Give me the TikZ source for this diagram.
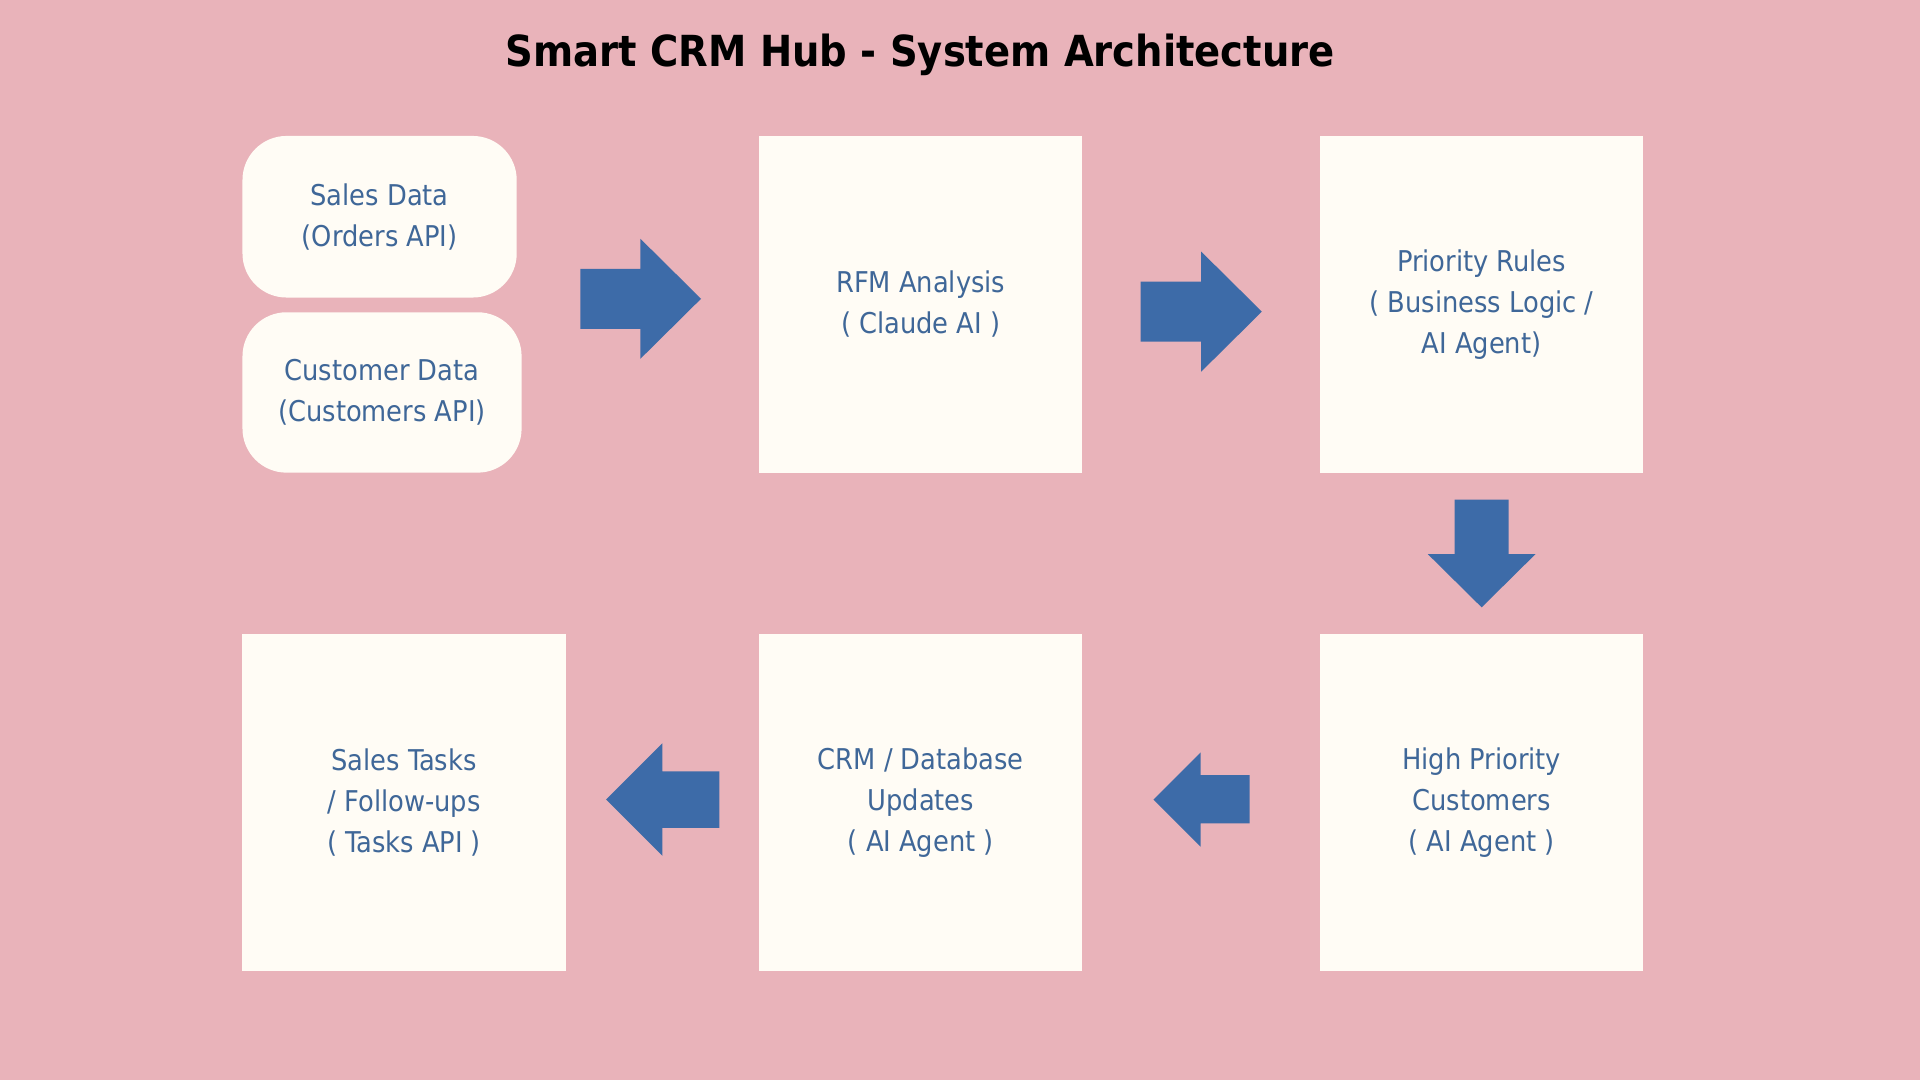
\documentclass[tikz,border=0pt]{standalone}
\usepackage{fontspec}
\setmainfont{DejaVu Sans Condensed}
\definecolor{bgpink}{RGB}{233,179,186}
\definecolor{cream}{RGB}{255,252,245}
\definecolor{flowblue}{RGB}{61,107,168}
\definecolor{txtblue}{RGB}{63,103,152}
\tikzset{
  card/.style={fill=cream, text=txtblue, align=center, inner sep=0pt,
    font=\fontsize{13.3}{19}\selectfont},
  tallcard/.style={card, minimum width=5.28cm, minimum height=5.5cm}
}
\begin{document}
\begin{tikzpicture}[x=0.02cm,y=-0.02cm]
\fill[bgpink] (0,0) rectangle (1568,882);
\node[anchor=base, font=\bfseries\fontsize{19.9}{24}\selectfont] (title) at (751.5,54.5) {Smart CRM Hub - System Architecture};
% data sources
\node[card, rounded corners=0.72cm, minimum width=4.48cm, minimum height=2.64cm] (sales) at (310,177) {Sales Data\\(Orders API)};
\node[card, rounded corners=0.72cm, minimum width=4.56cm, minimum height=2.62cm] (customer) at (312,320.5) {Customer Data\\(Customers API)};
% processing
\node[tallcard] (rfm) at (752,248.5) {RFM Analysis\\( Claude AI )};
\node[tallcard] (rules) at (1210,248.5) {Priority Rules\\( Business Logic /\\AI Agent)};
\node[tallcard] (highprio) at (1210,655.5) {High Priority\\Customers\\( AI Agent )};
\node[tallcard] (crm) at (752,655.5) {CRM / Database\\Updates\\( AI Agent )};
\node[tallcard] (tasks) at (330,655.5) {Sales Tasks\\/ Follow-ups\\( Tasks API )};
% block arrows
\fill[flowblue] (474,219.5)--(523,219.5)--(523,195)--(572.5,244)--(523,293)--(523,268.5)--(474,268.5)--cycle;
\fill[flowblue] (931.5,230)--(981,230)--(981,205.5)--(1030.5,254.5)--(981,303.5)--(981,279)--(931.5,279)--cycle;
\fill[flowblue] (1188,408)--(1232,408)--(1232,452.5)--(1254,452.5)--(1210,496)--(1166,452.5)--(1188,452.5)--cycle;
\fill[flowblue] (1020.5,633)--(980.5,633)--(980.5,614.5)--(942,653)--(980.5,691.5)--(980.5,672.5)--(1020.5,672.5)--cycle;
\fill[flowblue] (587.5,630)--(541,630)--(541,607)--(495,653)--(541,699)--(541,676)--(587.5,676)--cycle;
\end{tikzpicture}
\end{document}
